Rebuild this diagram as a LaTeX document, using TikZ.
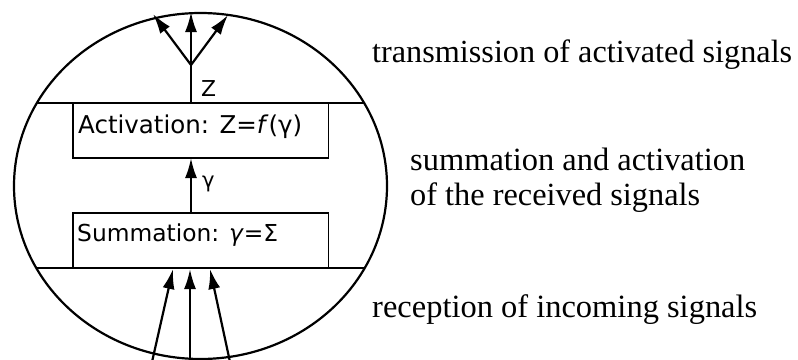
\documentclass[tikz,border=0pt]{standalone}
\usepackage{fontspec}
\setmainfont{Liberation Serif}
\newfontfamily\boxfont{DejaVu Sans}
\usetikzlibrary{arrows.meta}
\tikzset{
  px/.style={x=1pt,y=-1pt},
  thick line/.style={line width=2.2pt},
  sig/.style={line width=2.2pt,-{Latex[length=20pt,width=12pt]}},
  layerbox/.style={draw,line width=1.6pt,minimum width=255.5pt,minimum height=55pt,inner sep=0pt},
  boxtext/.style={font=\boxfont,inner sep=0pt,anchor=base west},
  sidetext/.style={inner sep=0pt,anchor=base west},
}
\begin{document}
\begin{tikzpicture}[px]
\useasboundingbox (0,0) rectangle (798,359);
\clip (0,0) rectangle (798,359);
% cell body
\coordinate (c) at (200.5,186);
\draw[thick line] (c) ellipse [x radius=186.5pt, y radius=173pt];
\begin{scope}
  \clip (c) ellipse [x radius=186.5pt, y radius=173pt];
  \draw[thick line] (0,103) -- (798,103);
  \draw[thick line] (0,268) -- (798,268);
\end{scope}
% boxes
\node[layerbox] (act) at (200.6,130.5) {};
\node[layerbox] (sum) at (200.8,240.5) {};
\node[boxtext] (acttxt) at (78,133) {\resizebox{224pt}{!}{Activation: Z=\textit{f}(γ)}};
\node[boxtext] (sumtxt) at (77,241) {\resizebox{201pt}{!}{Summation: \textit{γ}=Σ}};
% internal arrow
\coordinate (sumtop) at (191,213);
\coordinate (actbot) at (191,158);
\draw[sig] (sumtop) -- (actbot);
\node[boxtext] (g) at (202,187.5) {\resizebox{12.5pt}{!}{γ}};
% output
\coordinate (acttop) at (191,103);
\coordinate (branch) at (191,65);
\coordinate (o1) at (153,14);
\coordinate (o2) at (191,12);
\coordinate (o3) at (228,15);
\draw[thick line] (acttop) -- (branch);
\draw[sig] (branch) -- (o1);
\draw[sig] (branch) -- (o2);
\draw[sig] (branch) -- (o3);
\node[boxtext] (z) at (201,96) {\resizebox{15pt}{!}{Z}};
% inputs
\coordinate (i1) at (152,362);
\coordinate (i2) at (190,362);
\coordinate (i3) at (230,362);
\coordinate (t1) at (173,269);
\coordinate (t2) at (190,269);
\coordinate (t3) at (210,269);
\draw[sig] (i1) -- (t1);
\draw[sig] (i2) -- (t2);
\draw[sig] (i3) -- (t3);
% side labels
\node[sidetext] (l1) at (372,62) {\resizebox{420pt}{!}{transmission of activated signals}};
\node[sidetext] (l2) at (410,170) {\resizebox{335pt}{!}{summation and activation}};
\node[sidetext] (l3) at (410,205) {\resizebox{290pt}{!}{of the received signals}};
\node[sidetext] (l4) at (372,317) {\resizebox{385pt}{!}{reception of incoming signals}};
\end{tikzpicture}
\end{document}
